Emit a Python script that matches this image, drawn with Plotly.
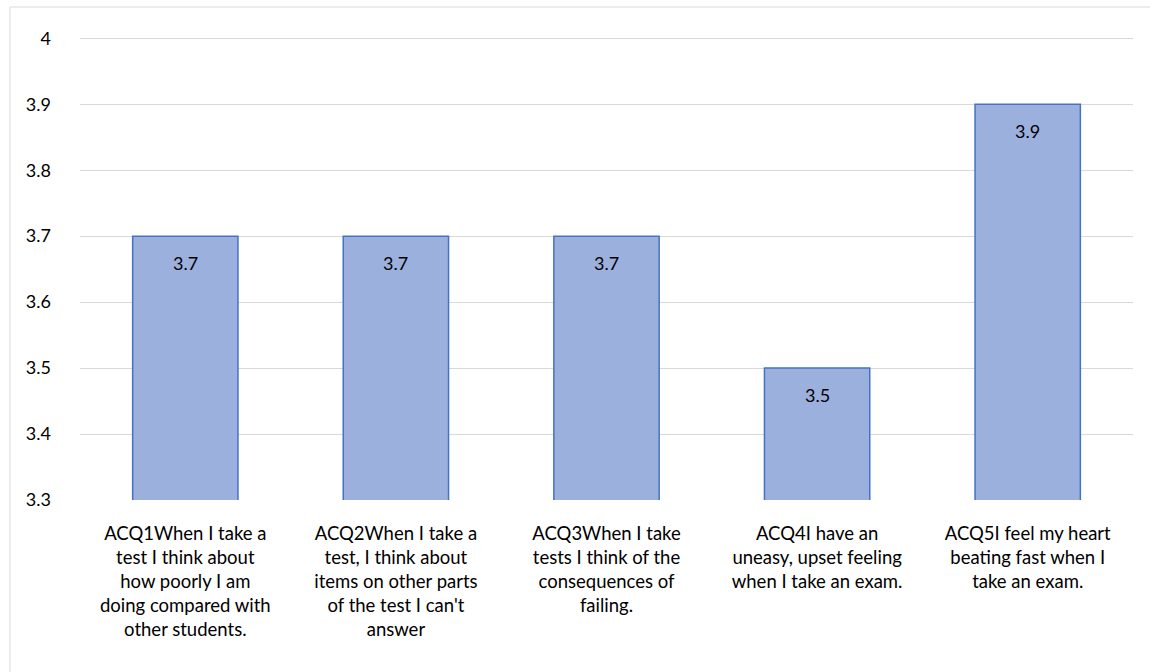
import plotly.graph_objects as go

categories = [
    "ACQ1When I take a<br>test I think about<br>how poorly I am<br>doing compared with<br>other students.",
    "ACQ2When I take a<br>test, I think about<br>items on other parts<br>of the test I can't<br>answer",
    "ACQ3When I take<br>tests I think of the<br>consequences of<br>failing.",
    "ACQ4I have an<br>uneasy, upset feeling<br>when I take an exam.",
    "ACQ5I feel my heart<br>beating fast when I<br>take an exam.",
]
values = [3.7, 3.7, 3.7, 3.5, 3.9]
y_ticks = [3.3, 3.4, 3.5, 3.6, 3.7, 3.8, 3.9, 4]
y_tick_labels = ["3.3", "3.4", "3.5", "3.6", "3.7", "3.8", "3.9", "4"]

W, H = 1150, 672
L, R, T, B = 80, 17, 37, 172
pw, ph = W - L - R, H - T - B
FONT = "Lato"

fig = go.Figure(go.Bar(
    x=categories, y=values,
    marker=dict(color="#9cb0de", line=dict(color="#4472c4", width=1.5)),
    hoverinfo="skip",
))

annotations = [
    dict(x=c, y=v, xref="x", yref="y", text=f"{v:g}", showarrow=False,
         yanchor="middle", yshift=-27, font=dict(size=18, family=FONT, color="#000000"))
    for c, v in zip(categories, values)
]

fig.update_layout(
    width=W, height=H,
    margin=dict(l=L, r=R, t=T, b=B),
    paper_bgcolor="white", plot_bgcolor="white",
    bargap=0.5, showlegend=False,
    font=dict(family=FONT, size=18, color="#000000"),
    xaxis=dict(showgrid=False, showline=False, ticks="", tickangle=0,
               ticklabelstandoff=20, tickfont=dict(size=18.5, family=FONT)),
    yaxis=dict(range=[3.3, 4.002], tickvals=y_ticks, ticktext=y_tick_labels,
               showgrid=True, gridcolor="#d9d9d9", gridwidth=1.3,
               zeroline=False, showline=False, ticks="", ticklabelstandoff=28,
               tickfont=dict(size=18, family=FONT)),
    annotations=annotations,
    shapes=[dict(type="rect", xref="paper", yref="paper",
                 x0=(10 - L) / pw, x1=(W + 5 - L) / pw,
                 y0=-(B + 10) / ph, y1=1 + (T - 7) / ph,
                 line=dict(color="#d9d9d9", width=1))],
)
fig.write_html("out.html", config={"displayModeBar": False},
               post_script="document.body.style.margin='0';document.body.style.overflow='hidden';")
